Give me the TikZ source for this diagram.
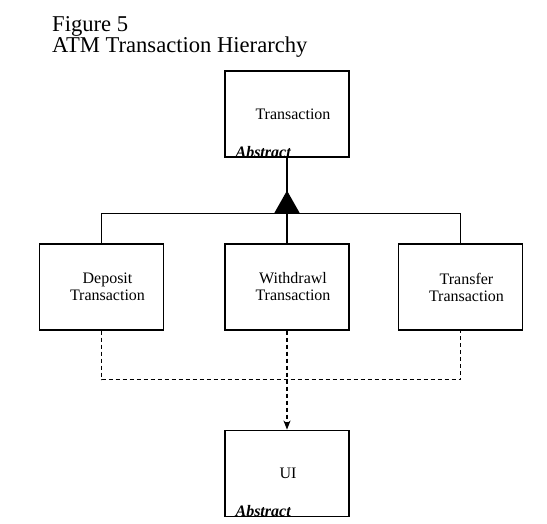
\documentclass[tikz,border=0pt]{standalone}
\usepackage{fontspec}
\setmainfont{Liberation Serif}
\usepackage{tikz}
\usetikzlibrary{positioning,arrows.meta,calc}
\tikzset{
  cls/.style   = {draw, line width=1.2pt, minimum width=124pt, minimum height=86pt, inner sep=0pt},
  clstext/.style = {align=center, inner sep=0pt, xshift=6pt, font=\fontsize{16}{17}\selectfont},
  abstr/.style = {inner sep=0pt, anchor=base west, font=\fontsize{16}{17}\selectfont\bfseries\itshape},
  inherit/.style = {line width=1.2pt},
  dep/.style   = {line width=1.2pt, dash pattern=on 4pt off 3pt},
  title/.style = {inner sep=0pt, anchor=base west, font=\fontsize{22.6}{22}\selectfont},
}

\begin{document}
\begin{tikzpicture}[x=1pt,y=-1pt]
  \useasboundingbox (0,0) rectangle (547,524);
  % title
  \node[title] (fig) at (52,32) {Figure 5};
  \node[title] (ttl) at (52,53) {ATM Transaction Hierarchy};
  % classes
  \node[cls, label={[clstext]center:Transaction}] (trans) at (287,114) {};
  \node[abstr] at ([xshift=11pt,yshift=0.5pt]trans.south west) {Abstract};
  \node[cls, label={[clstext]center:{Deposit\\Transaction}}] (dep) at (101.5,287) {};
  \node[cls, label={[clstext]center:{Withdrawl\\Transaction}}] (wdr) at (287,287) {};
  \node[cls, label={[clstext]center:{Transfer\\Transaction}}] (xfr) at (460.5,287) {};
  \node[cls, below=99pt of wdr, label={[clstext, xshift=-5pt]center:UI}] (ui) {};
  \node[abstr] at ([xshift=11pt,yshift=0.5pt]ui.south west) {Abstract};
  % generalisation
  \coordinate (bar) at ($(trans.south)+(0,56)$);
  \draw[inherit] (trans.south) -- (wdr.north);
  \draw[inherit] (dep.north) |- (bar) -| (xfr.north);
  \fill ($(bar)+(-13,0)$) -- ($(bar)+(0,-23)$) -- ($(bar)+(13,0)$) -- cycle;
  % dependency on UI
  \coordinate (join) at ($(wdr.south)+(0,49)$);
  \draw[dep] (dep.south) |- (join) -| (xfr.south);
  \draw[dep, -{Stealth[length=9pt,width=7pt,inset=2.5pt]}] (wdr.south) -- (ui.north);
\end{tikzpicture}
\end{document}
